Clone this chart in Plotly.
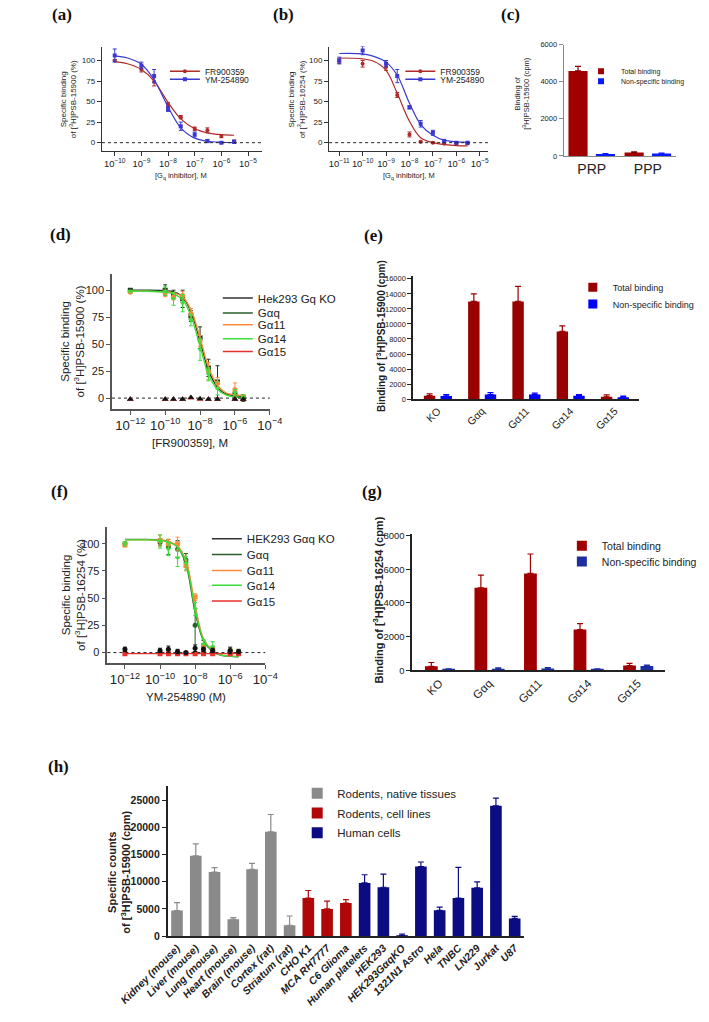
import plotly.graph_objects as go

W, H = 709, 1022
SANS = "Liberation Sans, Arial, Helvetica, sans-serif"
SERIF = "Liberation Serif, Times New Roman, serif"

# ---------------- data ----------------
# (a) [3H]PSB-15900 competition
a_conc = [1e-10, 1e-9, 3e-9, 1e-8, 3e-8, 1e-7, 3e-7, 1e-6, 3e-6]
a_fr = [100, 89, 74, 46, 31, 17, 15, 8, 1]
a_fr_err = [1, 3, 5, 3, 2, 2, 3, 2, 2]
a_ym = [106, 94, 81, 41, 20, 10, 2, 0, 1]
a_ym_err = [8, 4, 8, 3, 5, 3, 2, 1, 2]
a_fit_conc = [1e-10, 3e-10, 1e-9, 3e-9, 1e-8, 3e-8, 1e-7, 3e-7, 1e-6, 3e-6]
a_fr_fit = [98.5, 96, 89, 75, 49, 29, 17, 12, 9.7, 9]
a_ym_fit = [105.5, 103, 95.5, 76.5, 43.5, 18, 5.5, 1.7, 0.5, 0.1]

# (b) [3H]PSB-16254 competition
b_conc = [1e-11, 1e-10, 1e-9, 3e-9, 1e-8, 3e-8, 1e-7, 3e-7, 1e-6, 3e-6]
b_fr = [99, 96, 92, 58, 10, 1, 0, -1, -1, -1]
b_fr_err = [3, 4, 4, 3, 3, 1, 1, 1, 1, 1]
b_ym = [100, 112, 96, 81, 43, 23, 12, 2, 0, 0]
b_ym_err = [4, 5, 4, 8, 2, 4, 3, 2, 1, 1]
b_fit_conc = [1e-11, 1e-10, 3e-10, 1e-9, 3e-9, 1e-8, 3e-8, 1e-7, 3e-7, 1e-6, 3e-6]
b_fr_fit = [103, 102, 99, 88, 60, 26, 6, 0, -2.5, -3.5, -4]
b_ym_fit = [108.5, 108, 105, 98, 82, 48, 22, 9, 3, 1, 0.5]

# (c) platelets
c_groups = ["PRP", "PPP"]
c_total = [4580, 190]
c_total_err = [250, 40]
c_nonspec = [110, 130]
c_nonspec_err = [20, 30]

# (d) FR900359 vs [3H]PSB-15900
d_conc = [1e-12, 1e-10, 3e-10, 1e-9, 3e-9, 1e-8, 3e-8, 1e-7, 1e-6, 3e-6]
d_gq = [100, 100, 96, 92, 76, 56, 28, 15, 3, 0]
d_gq_err = [1, 5, 4, 8, 5, 10, 8, 15, 3, 3]
d_g11 = [98, 97, 94, 95, 78, 53, 25, 14, 8, 1]
d_g11_err = [1, 3, 3, 4, 5, 5, 8, 5, 6, 2]
d_g14 = [99, 99, 92, 88, 72, 45, 22, 9, 5, 1]
d_g14_err = [1, 4, 6, 8, 5, 10, 6, 6, 3, 2]
d_ko = [-1, -1, -1, -1, 0.5, -0.5, -1, -1, -1, -1]
d_g15 = [-1, -1, -1, -1, 0, -1, -1, -1, -1, -1]
d_fit_conc = [1e-12, 1e-11, 1e-10, 3e-10, 1e-9, 3e-9, 1e-8, 3e-8, 1e-7, 3e-7, 1e-6, 3e-6]
d_gq_fit = [100, 100, 99.5, 98.5, 94, 80, 53, 26, 10, 4, 2, 1.5]
d_g11_fit = [99, 99, 98.5, 97.5, 94, 82, 56, 29, 12, 5, 3, 2.5]
d_g14_fit = [99, 99, 98, 96.5, 91, 76, 48, 22, 8, 3, 1, 0.5]

# (e) [3H]PSB-15900 binding
e_groups = ["KO", "Gαq", "Gα11", "Gα14", "Gα15"]
e_total = [450, 13000, 13000, 9000, 300]
e_total_err = [250, 1000, 2000, 750, 250]
e_nonspec = [400, 600, 600, 450, 250]
e_nonspec_err = [200, 250, 200, 150, 150]

# (f) YM-254890 vs [3H]PSB-16254
f_conc = [1e-12, 1e-10, 3e-10, 1e-9, 3e-9, 1e-8, 3e-8, 1e-7, 1e-6, 3e-6]
f_gq = [100, 101, 97, 95, 85, 25, 6, 3, 1, 0]
f_gq_err = [2, 3, 7, 8, 6, 25, 5, 3, 2, 2]
f_g11 = [99, 103, 100, 100, 80, 51, 5, 3, 1, 0]
f_g11_err = [2, 5, 4, 6, 5, 3, 3, 2, 2, 2]
f_g14 = [100, 102, 95, 87, 82, 40, 8, 5, 1, 0]
f_g14_err = [2, 6, 6, 8, 6, 6, 4, 5, 3, 2]
f_ko = [3, 2, 3, 1, 0, 4, 3, 2, 2, 1]
f_ko_err = [2, 2, 3, 2, 1, 3, 2, 2, 3, 2]
f_g15 = [-1, -1, -1, -1, -1, -1, -1, -1, -1, -1]
f_fit_conc = [1e-12, 1e-11, 1e-10, 3e-10, 1e-9, 3e-9, 1e-8, 3e-8, 1e-7, 3e-7, 1e-6, 3e-6]
f_gq_fit = [104, 104, 103.5, 102, 97, 81, 37, 11, 1, -2.5, -3.5, -3.8]
f_g11_fit = [103.5, 103.5, 103, 102, 98, 85, 44, 13, 2, -2, -3.2, -3.5]
f_g14_fit = [103.5, 103.5, 103, 101.5, 97, 83, 40, 12, 1.5, -2.3, -3.3, -3.6]
f_g15_fit_conc = [1e-12, 3e-6]
f_g15_fit = [-1, -1]

# (g) [3H]PSB-16254 binding
g_groups = ["KO", "Gαq", "Gα11", "Gα14", "Gα15"]
g_total = [240, 4900, 5750, 2420, 290]
g_total_err = [230, 750, 1150, 350, 130]
g_nonspec = [70, 100, 120, 70, 260]
g_nonspec_err = [30, 50, 40, 30, 60]

# (h) specific counts in tissues / cells
h_labels = ["Kidney (mouse)", "Liver (mouse)", "Lung (mouse)", "Heart (mouse)",
            "Brain (mouse)", "Cortex (rat)", "Striatum (rat)", "CHO K1",
            "MCA RH7777", "C6 Glioma", "Human platelets", "HEK293",
            "HEK293GαqKO", "1321N1 Astro", "Hela", "TNBC", "LN229", "Jurkat", "U87"]
h_values = [4700, 14800, 11800, 3100, 12300, 19200, 2000, 7000, 5000, 6100,
            9800, 9000, 100, 12800, 4750, 7000, 8900, 24000, 3250]
h_err = [1450, 2200, 800, 300, 1100, 3200, 1700, 1400, 1450, 600,
         1500, 2400, 250, 850, 600, 5650, 1100, 1400, 400]
h_group = ["native", "native", "native", "native", "native", "native", "native",
           "cell", "cell", "cell",
           "human", "human", "human", "human", "human", "human", "human", "human", "human"]
h_group_names = {"native": "Rodents, native tissues", "cell": "Rodents, cell lines",
                 "human": "Human cells"}
h_group_colors = {"native": "#8a8a8a", "cell": "#b00808", "human": "#0b0b82"}

# ---------------- helpers ----------------
fig = go.Figure()
layout = dict(width=W, height=H, margin=dict(l=0, r=0, t=0, b=0),
              paper_bgcolor="white", plot_bgcolor="rgba(0,0,0,0)",
              barmode="overlay", font=dict(family=SANS, color="#222"),
              showlegend=True)
shapes = []
annotations = []
LEG_DX = 40


def xd(l, r):
    return [l / W, r / W]


def yd(top, bottom):
    return [1 - bottom / H, 1 - top / H]


def axname(n, letter):
    return f"{letter}axis" if n == 1 else f"{letter}axis{n}"


def axref(n, letter):
    return letter if n == 1 else f"{letter}{n}"


def set_axes(n, xdef, ydef):
    xdef.update(anchor=axref(n, "y"), showgrid=False, zeroline=False)
    ydef.update(anchor=axref(n, "x"), showgrid=False, zeroline=False)
    layout[axname(n, "x")] = xdef
    layout[axname(n, "y")] = ydef


legend_count = [0]


def new_legend(text_x, y_c, size, bold=False):
    legend_count[0] += 1
    i = legend_count[0]
    key = "legend" if i == 1 else f"legend{i}"
    layout[key] = dict(x=(text_x - LEG_DX) / W, y=1 - y_c / H, xanchor="left",
                       yanchor="middle", bgcolor="rgba(0,0,0,0)", borderwidth=0,
                       font=dict(family=SANS, size=size, color="#222",
                                 weight="bold" if bold else "normal"))
    return key


def ann(x, y, text, size, angle=0, bold=False, family=SANS, color="#222"):
    annotations.append(dict(x=x / W, y=1 - y / H, xref="paper", yref="paper",
                            text=text, showarrow=False, textangle=angle,
                            xanchor="center", yanchor="middle",
                            font=dict(family=family, size=size, color=color,
                                      weight="bold" if bold else "normal")))


def dotted_zero(n):
    shapes.append(dict(type="line", xref=f"{axref(n, 'x')} domain", yref=axref(n, "y"),
                       x0=0, x1=1, y0=0, y1=0,
                       line=dict(color="#222", width=1, dash="dot")))


def curve_panel(n, conc, ys, errs, fits, fit_conc, colors, symbols, msize, lw):
    for y, e, fy_, fc, col, sym in zip(ys, errs, fits, fit_conc, colors, symbols):
        if y is not None:
            fig.add_trace(go.Scatter(
                x=conc, y=y, mode="markers", showlegend=False,
                xaxis=axref(n, "x"), yaxis=axref(n, "y"),
                marker=dict(color=col, size=msize, symbol=sym),
                error_y=dict(type="data", array=e, color=col, thickness=1, width=2)
                if e is not None else None))
        if fy_ is not None:
            fig.add_trace(go.Scatter(
                x=fc, y=fy_, mode="lines", line=dict(color=col, width=lw, shape="spline"),
                showlegend=False, xaxis=axref(n, "x"), yaxis=axref(n, "y")))


def legend_line(n, name, col, sym, text_x, y_c, size, markers=True, msize=5):
    key = new_legend(text_x, y_c, size)
    fig.add_trace(go.Scatter(x=[None], y=[None], name=name,
                             mode="lines+markers" if markers else "lines",
                             line=dict(color=col, width=1.5),
                             marker=dict(color=col, size=msize, symbol=sym),
                             legend=key, xaxis=axref(n, "x"), yaxis=axref(n, "y")))


def legend_box(n, name, col, text_x, y_c, size, msize):
    key = new_legend(text_x, y_c, size)
    fig.add_trace(go.Scatter(x=[None], y=[None], name=name, mode="markers",
                             marker=dict(color=col, size=msize, symbol="square"),
                             legend=key, xaxis=axref(n, "x"), yaxis=axref(n, "y")))


def log_x(l, r, rng, dtick, size, col="#333", lw=1.2):
    return dict(domain=xd(l, r), type="log", range=rng, dtick=dtick,
                exponentformat="power", showexponent="all", ticks="outside",
                ticklen=4, tickwidth=1, tickcolor=col, showline=True, linecolor=col,
                linewidth=lw, tickangle=0,
                tickfont=dict(size=size, family=SANS, color="#222"))


def lin_y(top, bottom, rng, tickvals, size, col="#333", lw=1.2, bold=False):
    return dict(domain=yd(top, bottom), range=rng, tickvals=tickvals, ticks="outside",
                tickformat="d", exponentformat="none",
                ticklen=4, tickwidth=1, tickcolor=col, showline=True, linecolor=col,
                linewidth=lw, tickfont=dict(size=size, family=SANS, color="#222",
                                            weight="bold" if bold else "normal"))


def cat_x(l, r, rng, cats, size, col="#222", lw=1.5, angle=0, bold=False, italic=False):
    return dict(domain=xd(l, r), type="category", range=rng,
                categoryorder="array", categoryarray=cats, ticks="", ticklen=0,
                showline=True, linecolor=col, linewidth=lw, tickangle=angle,
                tickfont=dict(size=size, family=SANS, color="#222",
                              weight="bold" if bold else "normal",
                              style="italic" if italic else "normal"))


def up_err(err, col):
    return dict(type="data", symmetric=False, array=err,
                arrayminus=[0 for _ in err], color=col, thickness=1.2, width=3)


RED_A = "#b02a2a"
BLUE_A = "#3a3ad2"

# ---------------- (a) ----------------
set_axes(1, log_x(58, 233, [-10.48, -4.49], 1, 7.5),
         lin_y(43, 148, [-9.6, 116.9], [0, 25, 50, 75, 100], 8))
dotted_zero(1)
curve_panel(1, a_conc, [a_fr, a_ym], [a_fr_err, a_ym_err], [a_fr_fit, a_ym_fit],
            [a_fit_conc, a_fit_conc], [RED_A, BLUE_A], ["circle", "square"], 4, 1.2)
legend_line(1, "FR900359", RED_A, "circle", 167, 68, 8.5, msize=4)
legend_line(1, "YM-254890", BLUE_A, "square", 167, 76, 8.5, msize=4)
ann(21, 96, "Specific binding<br>of [<sup>3</sup>H]PSB-15900 (%)", 8, angle=-90)
ann(145, 174, "[G<sub>q</sub> inhibitor], M", 7.5)

# ---------------- (b) ----------------
set_axes(2, log_x(307, 481, [-11.43, -4.65], 1, 7.5),
         lin_y(43, 148, [-9.6, 116.9], [0, 25, 50, 75, 100], 8))
dotted_zero(2)
curve_panel(2, b_conc, [b_fr, b_ym], [b_fr_err, b_ym_err], [b_fr_fit, b_ym_fit],
            [b_fit_conc, b_fit_conc], [RED_A, BLUE_A], ["circle", "square"], 4, 1.2)
legend_line(2, "FR900359", RED_A, "circle", 425, 68, 8.5, msize=4)
legend_line(2, "YM-254890", BLUE_A, "square", 425, 76, 8.5, msize=4)
ann(271, 96, "Specific binding<br>of [<sup>3</sup>H]PSB-16254 (%)", 8, angle=-90)
ann(394, 174, "[G<sub>q</sub> inhibitor], M", 7.5)

# ---------------- (c) ----------------
set_axes(3, cat_x(564, 687, [-0.5, 1.5], c_groups, 14, col="#888", lw=1.2),
         lin_y(41, 153.5, [0, 6000], [0, 2000, 4000, 6000], 7.5, col="#888"))
fig.add_trace(go.Bar(x=c_groups, y=c_total, name="Total binding", width=0.341,
                     offset=-0.415, marker=dict(color="#a00000", line=dict(width=0)),
                     error_y=up_err(c_total_err, "#7a0000"), showlegend=False,
                     xaxis="x3", yaxis="y3"))
fig.add_trace(go.Bar(x=c_groups, y=c_nonspec, name="Non-specific binding", width=0.341,
                     offset=0.073, marker=dict(color="#0a1aff", line=dict(width=0)),
                     error_y=up_err(c_nonspec_err, "#0a1aff"), showlegend=False,
                     xaxis="x3", yaxis="y3"))
legend_box(3, "Total binding", "#a00000", 623, 68, 7, 6)
legend_box(3, "Non-specific binding", "#0a1aff", 623, 78, 7, 6)
ann(518, 90, "Binding of<br>[<sup>3</sup>H]PSB-15900 (cpm)", 7.5, angle=-90)

# ---------------- (d) ----------------
C_KO = "#333333"
C_GQ = "#2a5e2a"
C_G11 = "#ff8a3c"
C_G14 = "#3ade3a"
C_G15 = "#e8302c"
set_axes(4, log_x(69, 242, [-13.05, -4], 2, 10.5, col="#555", lw=1.5),
         lin_y(273, 409, [-10.1, 114.7], [0, 25, 50, 75, 100], 11, col="#555", lw=1.5))
dotted_zero(4)
curve_panel(4, d_conc, [d_gq, d_g11, d_g14], [d_gq_err, d_g11_err, d_g14_err],
            [d_gq_fit, d_g11_fit, d_g14_fit], [d_fit_conc] * 3,
            ["#1e3a1e", C_G11, C_G14], ["square", "circle", "triangle-down"], 5, 1.3)
curve_panel(4, d_conc, [d_g15, d_ko], [None, None], [None, None], [None, None],
            [C_G15, "#111111"], ["triangle-up", "triangle-up"], 6, 1.3)
for nm, col, yy in [("Hek293 Gq KO", C_KO, 297), ("Gαq", C_GQ, 312), ("Gα11", C_G11, 324),
                    ("Gα14", C_G14, 338), ("Gα15", C_G15, 351)]:
    legend_line(4, nm, col, "circle", 225, yy, 11.5, markers=False)
ann(26, 341, "Specific binding<br>of [<sup>3</sup>H]PSB-15900 (%)", 11.5, angle=-90)
ann(155, 443, "[FR900359], M", 11.5)

# ---------------- (e) ----------------
set_axes(5, cat_x(399, 646, [-0.557, 4.536], e_groups, 10.5, angle=-45),
         lin_y(275, 399, [0, 16340], [0, 2000, 4000, 6000, 8000, 10000, 12000, 14000, 16000],
               7.5, col="#222", lw=1.5))
fig.add_trace(go.Bar(x=e_groups, y=e_total, name="Total binding", width=0.258,
                     offset=-0.314, marker=dict(color="#990000", line=dict(width=0)),
                     error_y=up_err(e_total_err, "#990000"), showlegend=False,
                     xaxis="x5", yaxis="y5"))
fig.add_trace(go.Bar(x=e_groups, y=e_nonspec, name="Non-specific binding", width=0.258,
                     offset=0.062, marker=dict(color="#0000ff", line=dict(width=0)),
                     error_y=up_err(e_nonspec_err, "#0000ff"), showlegend=False,
                     xaxis="x5", yaxis="y5"))
legend_box(5, "Total binding", "#990000", 614, 286, 9, 9)
legend_box(5, "Non-specific binding", "#0000ff", 614, 303, 9, 9)
ann(363, 335, "Binding of [<sup>3</sup>H]PSB-15900 (cpm)", 10, angle=-90, bold=True)

# ---------------- (f) ----------------
set_axes(6, log_x(64, 237, [-13, -4], 2, 10.5, col="#555", lw=1.5),
         lin_y(528, 666, [-10, 115.5], [0, 25, 50, 75, 100], 11, col="#555", lw=1.5))
dotted_zero(6)
curve_panel(6, f_conc, [f_gq, f_g11, f_g14], [f_gq_err, f_g11_err, f_g14_err],
            [f_gq_fit, f_g11_fit, f_g14_fit], [f_fit_conc] * 3,
            [C_GQ, C_G11, C_G14], ["circle", "square", "triangle-down"], 5, 1.3)
curve_panel(6, f_conc, [f_g15, f_ko], [None, f_ko_err], [f_g15_fit, None],
            [f_g15_fit_conc, None], [C_G15, "#111111"], ["square", "circle"], 5, 1.3)
for nm, col, yy in [("HEK293 Gαq KO", C_KO, 540), ("Gαq", C_GQ, 556), ("Gα11", C_G11, 572),
                    ("Gα14", C_G14, 587), ("Gα15", C_G15, 603)]:
    legend_line(6, nm, col, "circle", 213, yy, 11.5, markers=False)
ann(26, 597, "Specific binding<br>of [<sup>3</sup>H]PSB-16254 (%)", 11.5, angle=-90)
ann(150, 700, "YM-254890 (M)", 11.5)

# ---------------- (g) ----------------
set_axes(7, cat_x(398, 675, [-0.552, 4.549], g_groups, 11.5, angle=-45),
         lin_y(535, 673, [0, 8100], [0, 2000, 4000, 6000, 8000], 9.5, col="#222", lw=1.5))
fig.add_trace(go.Bar(x=g_groups, y=g_total, name="Total binding", width=0.258,
                     offset=-0.295, marker=dict(color="#a00000", line=dict(width=0)),
                     error_y=up_err(g_total_err, "#a00000"), showlegend=False,
                     xaxis="x7", yaxis="y7"))
fig.add_trace(go.Bar(x=g_groups, y=g_nonspec, name="Non-specific binding", width=0.258,
                     offset=0.055, marker=dict(color="#1c2ea0", line=dict(width=0)),
                     error_y=up_err(g_nonspec_err, "#1c2ea0"), showlegend=False,
                     xaxis="x7", yaxis="y7"))
legend_box(7, "Total binding", "#a00000", 602, 547, 10.5, 10)
legend_box(7, "Non-specific binding", "#1c2ea0", 602, 563, 10.5, 10)
ann(361, 602, "Binding of [<sup>3</sup>H]PSB-16254 (cpm)", 11, angle=-90, bold=True)

# ---------------- (h) ----------------
set_axes(8, cat_x(130, 520.6, [-0.5, 18.5], h_labels, 10.5, angle=-45, bold=True, italic=True),
         lin_y(790, 941.3, [0, 27600], [0, 5000, 10000, 15000, 20000, 25000], 10.5,
               col="#222", lw=1.5, bold=True))
for g, yy in [("native", 797), ("cell", 817), ("human", 837)]:
    idx = [i for i, gg in enumerate(h_group) if gg == g]
    col = h_group_colors[g]
    fig.add_trace(go.Bar(x=[h_labels[i] for i in idx], y=[h_values[i] for i in idx],
                         name=h_group_names[g], width=0.62, offset=-0.31,
                         marker=dict(color=col, line=dict(width=0)),
                         error_y=up_err([h_err[i] for i in idx], col), showlegend=False,
                         xaxis="x8", yaxis="y8"))
    legend_box(8, h_group_names[g], col, 312, yy, 11.5, 11)
ann(77, 877, "Specific counts<br>of [<sup>3</sup>H]PSB-15900 (cpm)", 11, angle=-90, bold=True)

# ---------------- panel labels ----------------
for lab, x, y in [("(a)", 14, 11), ("(b)", 257, 11), ("(c)", 506, 11), ("(d)", 13, 233),
                  ("(e)", 356, 234), ("(f)", 11, 492), ("(g)", 354, 492), ("(h)", 10, 770)]:
    ann(x, y, lab, 17, bold=True, family=SERIF, color="#111")

layout["shapes"] = shapes
layout["annotations"] = annotations
fig.update_layout(**layout)
fig.write_html("out.html",
               config={"displayModeBar": False},
               post_script="document.body.style.margin='0';"
                           "document.body.style.overflow='hidden';")
